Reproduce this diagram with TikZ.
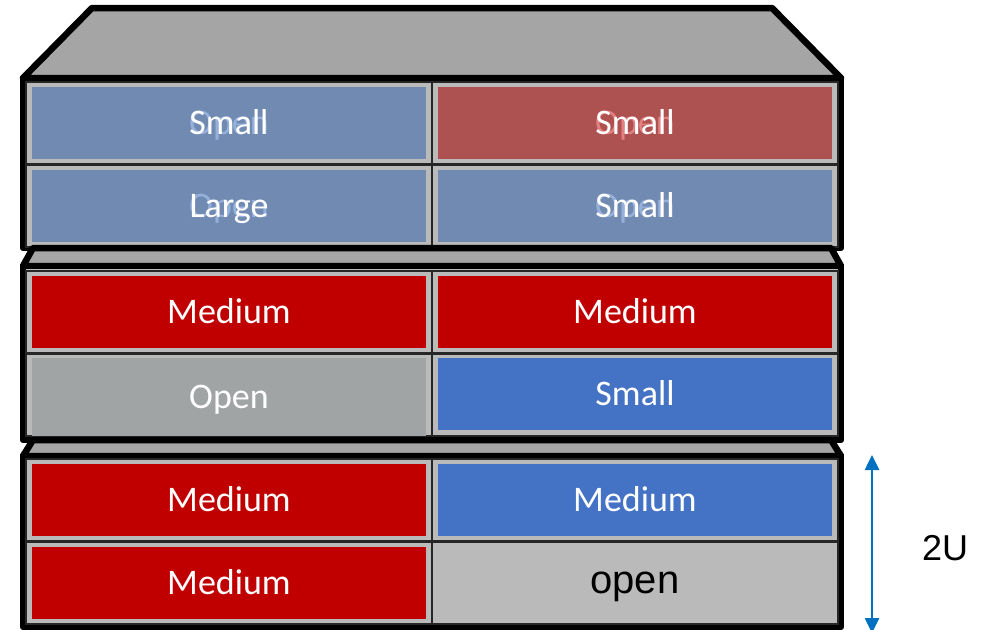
\documentclass[tikz,border=0pt]{standalone}
\usepackage{fontspec}
\usepackage{tikz}
\usetikzlibrary{positioning, arrows.meta}

\newfontfamily\calibrifont{Carlito}
\newfontfamily\arialfont{Liberation Sans}

\definecolor{lidgray}{RGB}{165,165,165}
\definecolor{framegray}{RGB}{186,186,186}
\definecolor{steelblue}{RGB}{112,138,178}
\definecolor{dullred}{RGB}{173,82,80}
\definecolor{darkred}{RGB}{192,0,0}
\definecolor{brightblue}{RGB}{68,114,196}
\definecolor{opengray}{RGB}{160,164,165}
\definecolor{ghostblue}{RGB}{150,176,220}
\definecolor{ghostred}{RGB}{226,128,128}
\definecolor{arrowblue}{RGB}{0,112,192}

\begin{document}
\begin{tikzpicture}
    [
        x=1pt, y=-1pt, node distance=83pt and 406pt, on grid,
        unit_line/.style={draw=black, line width=6.5pt, line join=round, fill=lidgray},
        cell_frame/.style={rectangle, draw=black!85, line width=1.5pt, fill=framegray, minimum width=406pt, minimum height=82pt, inner sep=0pt},
        module_text/.style={text=white, font=\calibrifont\fontsize{36}{40}\selectfont, text height=23pt, text depth=0pt, inner sep=0pt},
        module_box/.style={rectangle, fill=#1, minimum width=394pt, minimum height=72pt, module_text},
        ghost_text/.style={module_text, text=#1},
        span_arrow/.style={{Triangle[width=14pt,length=15pt]}-{Triangle[width=14pt,length=15pt]}, line width=2.6pt, color=arrowblue},
    ]
        \useasboundingbox (0,0) rectangle (993,629);

        % top unit
        \draw[unit_line] (92,8) -- (772,8) -- (841,78) -- (23,78) -- cycle;
        \draw[unit_line, fill=framegray] (23,78) rectangle (841,248);
        \node[cell_frame] (f1a) at (229,123) {};
        \node[cell_frame] (f1b) [right = of f1a] {};
        \node[cell_frame] (f1c) [below = of f1a] {};
        \node[cell_frame] (f1d) [right = of f1c] {};
        \node[module_box=steelblue] (m1a) at (f1a) {};
        \node[ghost_text=ghostblue] (g1a) at (m1a) {Open};
        \node[module_text] (t1a) at (m1a) {Small};
        \node[module_box=dullred] (m1b) at (f1b) {};
        \node[ghost_text=ghostred] (g1b) at (m1b) {Open};
        \node[module_text] (t1b) at (m1b) {Small};
        \node[module_box=steelblue] (m1c) at (f1c) {};
        \node[ghost_text=ghostblue] (g1c) at (m1c) {Open};
        \node[module_text] (t1c) at (m1c) {Large};
        \node[module_box=steelblue] (m1d) at (f1d) {};
        \node[ghost_text=ghostblue] (g1d) at (m1d) {Open};
        \node[module_text] (t1d) at (m1d) {Small};

        % middle unit
        \draw[unit_line] (33,248) -- (831,248) -- (841,266) -- (23,266) -- cycle;
        \draw[unit_line, fill=framegray] (23,266) rectangle (841,440);
        \node[cell_frame] (f2a) at (229,312) {};
        \node[cell_frame] (f2b) [right = of f2a] {};
        \node[cell_frame] (f2c) [below = of f2a] {};
        \node[cell_frame] (f2d) [right = of f2c] {};
        \node[module_box=darkred] (m2a) at (f2a) {Medium};
        \node[module_box=darkred] (m2b) at (f2b) {Medium};
        \node[module_box=opengray, minimum height=78pt, yshift=-2pt] (m2c) at (f2c) {Open};
        \node[module_box=brightblue, yshift=1pt] (m2d) at (f2d) {Small};

        % bottom unit
        \draw[unit_line] (33,440) -- (831,440) -- (841,456) -- (23,456) -- cycle;
        \draw[unit_line, fill=framegray] (23,456) rectangle (841,627);
        \node[cell_frame] (f3a) at (229,500) {};
        \node[cell_frame] (f3b) [right = of f3a] {};
        \node[cell_frame] (f3c) [below = of f3a] {};
        \node[cell_frame] (f3d) [right = of f3c] {};
        \node[module_box=darkred] (m3a) at (f3a) {Medium};
        \node[module_box=brightblue] (m3b) at (f3b) {Medium};
        \node[module_box=darkred] (m3c) at (f3c) {Medium};
        \node[module_box=framegray, text=black, font=\arialfont\fontsize{40}{44}\selectfont, text height=21pt] (m3d) at (f3d) {open};

        % height of one unit
        \coordinate (span_top) at (872,455);
        \coordinate (span_bot) at (872,633);
        \draw[span_arrow] (span_top) -- (span_bot);
        \node[font=\arialfont\fontsize{36}{40}\selectfont, inner sep=0pt] (span_label) at (945,548) {2U};
    \end{tikzpicture}
\end{document}
